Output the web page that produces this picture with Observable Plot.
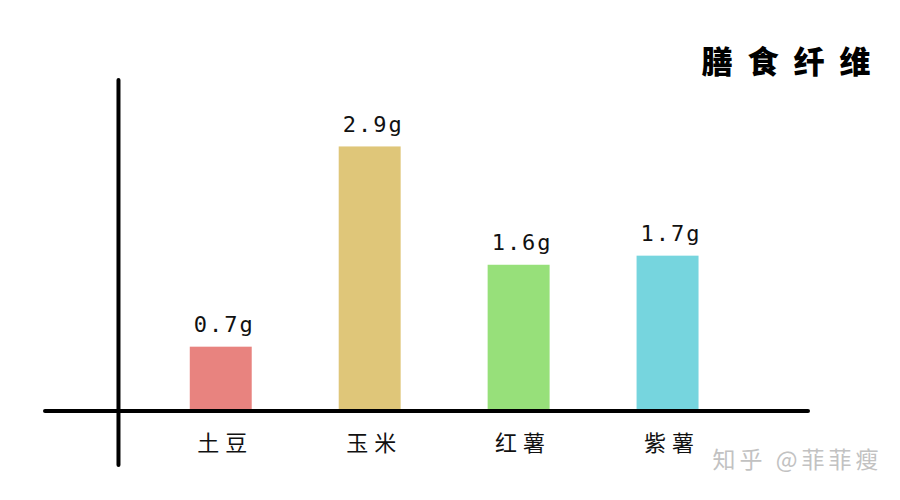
<!DOCTYPE html>
<html>
<head>
<meta charset="utf-8">
<script src="https://cdn.jsdelivr.net/npm/d3@7"></script>
<script src="https://cdn.jsdelivr.net/npm/@observablehq/plot@0.6"></script>
<style>
  html, body { margin: 0; padding: 0; background: #fff; }
  #chart { width: 900px; height: 500px; }
</style>
</head>
<body>
<div id="chart"></div>
<script>
const categories = ["土豆", "玉米", "红薯", "紫薯"];
const values = [0.7, 2.9, 1.6, 1.7];
const valueLabels = ["0.7g", "2.9g", "1.6g", "1.7g"];
const colors = ["#e8837f", "#dfc679", "#97e07a", "#76d5de"];
const title = "膳食纤维";
const watermark = "知乎 @菲菲瘦";

const data = categories.map((c, i) => ({
  category: c, index: i, value: values[i], label: valueLabels[i], color: colors[i]
}));

const halfBar = 0.208;
const yAxisAt = -0.69;

const chart = Plot.plot({
  width: 900,
  height: 500,
  marginLeft: 45,
  marginRight: 92,
  marginTop: 80,
  marginBottom: 35,
  x: { domain: [-1.18, 3.943], axis: null },
  y: { domain: [-0.6, 3.63], axis: null },
  style: { background: "#fff" },
  marks: [
    Plot.rectY(data, {
      x1: d => d.index - halfBar,
      x2: d => d.index + halfBar,
      y1: 0,
      y2: "value",
      fill: d => d.color
    }),
    Plot.ruleY([0], { stroke: "#000", strokeWidth: 4, strokeLinecap: "round" }),
    Plot.ruleX([yAxisAt], { stroke: "#000", strokeWidth: 4, strokeLinecap: "round" }),
    Plot.text(data, {
      x: "index",
      y: "value",
      text: "label",
      dy: -22,
      dx: 3,
      fontSize: 22,
      fontFamily: "DejaVu Sans Mono",
      fill: "#111"
    }),
    Plot.text(data, {
      x: "index",
      y: 0,
      text: "category",
      dy: 33,
      dx: 4,
      fontSize: 22,
      fontFamily: "Noto Sans CJK SC",
      fill: "#111"
    }),
    Plot.text([title], {
      frameAnchor: "top-right",
      text: d => d,
      dx: 77,
      dy: -30,
      textAnchor: "end",
      fontSize: 31,
      fontWeight: 900,
      fontFamily: "Noto Sans CJK SC",
      fill: "#000"
    }),
    Plot.text([watermark], {
      frameAnchor: "bottom-right",
      text: d => d,
      dx: 74,
      dy: 2,
      textAnchor: "end",
      fontSize: 23,
      fontFamily: "Noto Sans CJK SC",
      fill: "#c2c2c2"
    })
  ]
});

const spacing = new Map();
valueLabels.forEach(t => spacing.set(t, "2px"));
categories.forEach(t => spacing.set(t, "6px"));
spacing.set(title, "15px");
spacing.set(watermark, "4px");
d3.select(chart).selectAll("text").each(function () {
  const s = spacing.get(this.textContent);
  if (s) this.style.letterSpacing = s;
});

document.getElementById("chart").appendChild(chart);
</script>
</body>
</html>
